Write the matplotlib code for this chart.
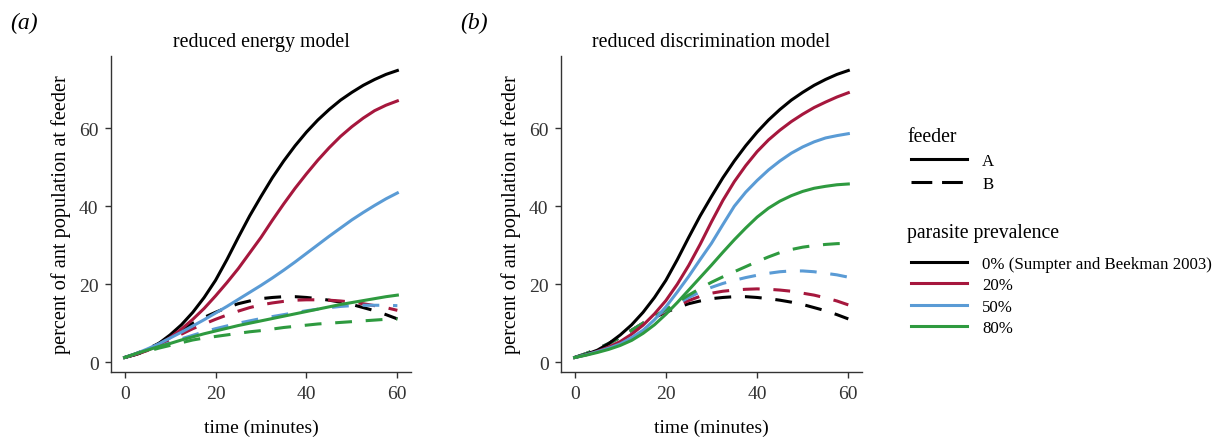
import matplotlib
matplotlib.use("Agg")
import matplotlib.pyplot as plt
from matplotlib.lines import Line2D

plt.rcParams["font.family"] = ["Liberation Serif", "DejaVu Serif"]

# time (minutes), read every 2.5 min
t = [0, 2.5, 5, 7.5, 10, 12.5, 15, 17.5, 20, 22.5, 25, 27.5, 30,
     32.5, 35, 37.5, 40, 42.5, 45, 47.5, 50, 52.5, 55, 57.5, 60]

# 0% parasites (same in both panels)
A_0 = [1.2, 2.0, 3.1, 4.8, 7.0, 9.6, 12.8, 16.6, 21.0, 26.3, 32.0, 37.5, 42.5,
       47.3, 51.6, 55.5, 59.0, 62.1, 64.8, 67.2, 69.2, 71.0, 72.5, 73.8, 74.8]
B_0 = [1.2, 2.2, 3.4, 4.8, 6.4, 8.2, 10.0, 11.5, 12.8, 14.0, 15.0, 15.7, 16.3,
       16.6, 16.8, 16.8, 16.6, 16.3, 15.9, 15.4, 14.8, 14.0, 13.2, 12.2, 11.1]

# (a) reduced energy model
a_A_20 = [1.2, 2.0, 3.0, 4.5, 6.3, 8.5, 11.0, 13.8, 17.0, 20.4, 24.0, 28.0, 32.0,
          36.4, 40.6, 44.6, 48.3, 51.8, 55.0, 57.9, 60.4, 62.6, 64.5, 65.9, 67.0]
a_A_50 = [1.2, 2.2, 3.4, 4.7, 6.2, 7.7, 9.3, 10.9, 12.6, 14.3, 16.1, 17.9, 19.7,
          21.6, 23.6, 25.7, 27.9, 30.1, 32.3, 34.4, 36.5, 38.4, 40.2, 41.9, 43.4]
a_A_80 = [1.2, 2.2, 3.1, 4.0, 4.8, 5.7, 6.5, 7.3, 8.0, 8.7, 9.4, 10.0, 10.6,
          11.2, 11.8, 12.4, 13.0, 13.6, 14.2, 14.8, 15.3, 15.8, 16.3, 16.8, 17.2]
a_B_20 = [1.2, 2.1, 3.2, 4.4, 5.8, 7.2, 8.6, 9.8, 11.0, 12.1, 13.1, 14.0, 14.7,
          15.2, 15.6, 15.9, 16.0, 16.0, 15.9, 15.7, 15.4, 15.0, 14.5, 14.0, 13.3]
a_B_50 = [1.2, 2.1, 3.0, 4.0, 5.0, 6.0, 6.9, 7.8, 8.6, 9.3, 10.0, 10.6, 11.2,
          11.7, 12.2, 12.7, 13.2, 13.6, 14.0, 14.3, 14.5, 14.6, 14.6, 14.6, 14.5]
a_B_80 = [1.2, 2.0, 2.8, 3.6, 4.3, 5.0, 5.7, 6.2, 6.6, 7.0, 7.4, 7.8, 8.1,
          8.5, 8.9, 9.2, 9.5, 9.8, 10.0, 10.2, 10.4, 10.6, 10.8, 11.0, 11.1]

# (b) reduced discrimination model
b_A_20 = [1.2, 1.9, 2.8, 3.9, 5.3, 7.2, 9.5, 12.4, 15.8, 20.0, 24.8, 30.2, 36.0,
          41.5, 46.3, 50.4, 54.0, 57.0, 59.5, 61.7, 63.6, 65.3, 66.7, 68.0, 69.1]
b_A_50 = [1.2, 1.9, 2.7, 3.6, 4.7, 6.3, 8.2, 10.9, 14.2, 18.0, 22.0, 26.3, 30.5,
          35.3, 40.0, 43.6, 46.6, 49.3, 51.6, 53.6, 55.2, 56.5, 57.5, 58.1, 58.6]
b_A_80 = [1.2, 1.8, 2.5, 3.3, 4.3, 5.6, 7.4, 9.6, 12.3, 15.3, 18.5, 21.7, 24.9,
          28.2, 31.4, 34.4, 37.2, 39.5, 41.3, 42.7, 43.8, 44.6, 45.1, 45.5, 45.7]
b_B_20 = [1.2, 2.2, 3.4, 4.8, 6.4, 8.2, 10.0, 11.6, 13.0, 14.5, 15.8, 16.9, 17.7,
          18.2, 18.5, 18.7, 18.8, 18.7, 18.5, 18.2, 17.7, 17.2, 16.5, 15.7, 14.7]
b_B_50 = [1.2, 2.2, 3.4, 4.8, 6.4, 8.2, 10.0, 11.7, 13.3, 15.0, 16.6, 18.0, 19.2,
          20.2, 21.0, 21.7, 22.3, 22.8, 23.2, 23.4, 23.4, 23.2, 22.8, 22.4, 21.8]
b_B_80 = [1.2, 2.2, 3.4, 4.8, 6.4, 8.2, 10.0, 11.8, 13.5, 15.4, 17.2, 18.9, 20.5,
          21.9, 23.2, 24.5, 25.8, 27.0, 28.1, 28.9, 29.5, 29.9, 30.2, 30.4, 30.5]

feeders = ["A", "B"]
prevalence = ["0% (Sumpter and Beekman 2003)", "20%", "50%", "80%"]
colors = ["#000000", "#A6173D", "#5A9BD5", "#2E9A3F"]

panels = [
    ("(a)", "reduced energy model",
     [A_0, a_A_20, a_A_50, a_A_80], [B_0, a_B_20, a_B_50, a_B_80]),
    ("(b)", "reduced discrimination model",
     [A_0, b_A_20, b_A_50, b_A_80], [B_0, b_B_20, b_B_50, b_B_80]),
]

lw = 2.2
dash = (5.5, 4.5)
W, H = 1228, 439

fig = plt.figure(figsize=(12.28, 4.39), dpi=100)
axes_pos = [[111 / W, 0.150, 300 / W, 0.720], [561 / W, 0.150, 301 / W, 0.720]]

for pos, (tag, title, solid, dashed) in zip(axes_pos, panels):
    ax = fig.add_axes(pos)
    # dashed (feeder B) first, solid (feeder A) on top
    for ys, c in zip(dashed, colors):
        ax.plot(t, ys, color=c, lw=lw, dashes=dash)
    for ys, c in zip(solid, colors):
        ax.plot(t, ys, color=c, lw=lw)
    ax.set_xlim(-3, 63)
    ax.set_ylim(-2.55, 78.5)
    ax.set_xticks([0, 20, 40, 60])
    ax.set_yticks([0, 20, 40, 60])
    for s in ["top", "right"]:
        ax.spines[s].set_visible(False)
    for s in ["left", "bottom"]:
        ax.spines[s].set_color("#333333")
        ax.spines[s].set_linewidth(1.0)
    ax.tick_params(direction="out", length=4, width=1.0, color="#333333",
                   labelsize=14, labelcolor="#333333", pad=5)
    ax.set_xlabel("time (minutes)", fontsize=14, labelpad=12)
    ax.set_ylabel("percent of ant population at feeder", fontsize=14.6, labelpad=6)
    ax.set_title(title, fontsize=14.3, pad=7)
    fig.text(pos[0] - 101 / W, 1 - 23 / H, tag, fontsize=17, style="italic",
             ha="left", va="center")

# legends: titles as text, keys as figure legends
leg_x = 907 / W
fig.text(leg_x, 1 - 137 / H, "feeder", fontsize=14.2, ha="left", va="center")
fig.text(leg_x, 1 - 234 / H, "parasite prevalence", fontsize=14.2,
         ha="left", va="center")

feeder_handles = [Line2D([], [], color="black", lw=lw),
                  Line2D([], [], color="black", lw=lw, dashes=(6.8, 3.2))]
fig.legend(feeder_handles, feeders, loc="upper left",
           bbox_to_anchor=(911 / W, 1 - 154 / H), borderpad=0, borderaxespad=0,
           frameon=False, fontsize=12.2, handlelength=3.3, handletextpad=0.9,
           labelspacing=0.4)

prev_handles = [Line2D([], [], color=c, lw=lw) for c in colors]
fig.legend(prev_handles, prevalence, loc="upper left",
           bbox_to_anchor=(911 / W, 1 - 257 / H), borderpad=0, borderaxespad=0,
           frameon=False, fontsize=12.2, handlelength=3.3, handletextpad=0.9,
           labelspacing=0.32)

fig.savefig("out.png", dpi=100)
